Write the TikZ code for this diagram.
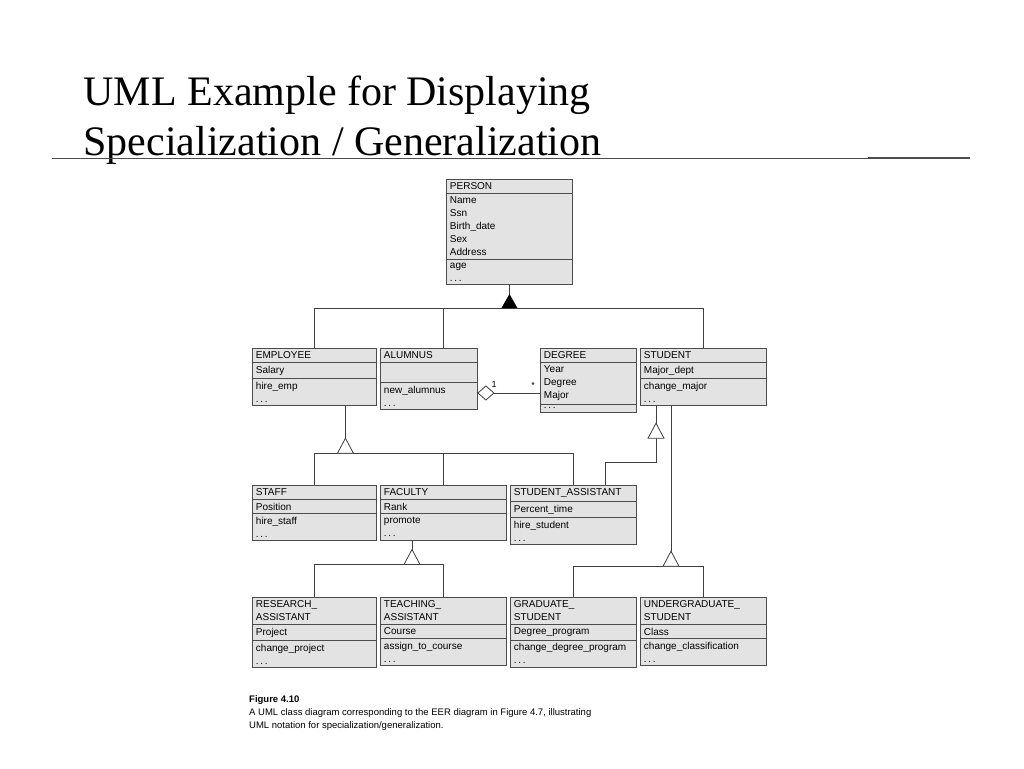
\documentclass[tikz,border=0pt]{standalone}
\usepackage{fontspec}
\setmainfont{Liberation Serif}
\newfontfamily\umlfont{Liberation Sans}
\usetikzlibrary{shapes.multipart,calc}

\tikzset{
  cls/.style={rectangle split, rectangle split parts=3, draw=black!70, fill=gray!22,
    line width=0.9pt, anchor=north west, inner xsep=3.5pt, inner ysep=3pt,
    text width=#1pt-7pt, align=left, font=\umlfont\fontsize{10}{13}\selectfont},
  conn/.style={draw=black!75, line width=0.8pt},
  gen/.style={conn, fill=white}
}
\newcommand{\dts}{.\,.\,.}

\begin{document}
\begin{tikzpicture}[x=1pt,y=-1pt]
  \useasboundingbox (0,0) rectangle (1024,768);

  % title
  \node[anchor=base west, font=\fontsize{42}{48}\selectfont, align=left] (title) at (80,105)
    {UML Example for Displaying};
  \node[anchor=base west, font=\fontsize{42}{48}\selectfont, align=left] (title2) at (80,155)
    {Specialization / Generalization};
  \draw[black!70, line width=0.8pt] (52,158) -- (970,158);
  \draw[black!70, line width=1.4pt] (868,158) -- (970,158);

  % classes
  \node[cls=126] (person) at (446,179) {PERSON
    \nodepart{two}Name\\Ssn\\Birth\_date\\Sex\\Address
    \nodepart{three}age\\\dts};

  \node[cls=124] (employee) at (252,348) {EMPLOYEE
    \nodepart{two}Salary \nodepart{three}hire\_emp\\\dts};
  \node[cls=97] (alumnus) at (380,348) {ALUMNUS
    \nodepart{two}\strut \nodepart{three}new\_alumnus\\\dts};
  \node[cls=96] (degree) at (540,348) {DEGREE
    \nodepart{two}Year\\Degree\\Major \nodepart{three}\dts};
  \node[cls=126] (student) at (640,348) {STUDENT
    \nodepart{two}Major\_dept \nodepart{three}change\_major\\\dts};

  \node[cls=124] (staff) at (252,485) {STAFF
    \nodepart{two}Position \nodepart{three}hire\_staff\\\dts};
  \node[cls=126] (faculty) at (380,485) {FACULTY
    \nodepart{two}Rank \nodepart{three}promote\\\dts};
  \node[cls=126] (stuasst) at (510,485) {STUDENT\_ASSISTANT
    \nodepart{two}Percent\_time \nodepart{three}hire\_student\\\dts};

  \node[cls=124] (research) at (252,597) {RESEARCH\_\\ASSISTANT
    \nodepart{two}Project \nodepart{three}change\_project\\\dts};
  \node[cls=126] (teaching) at (380,597) {TEACHING\_\\ASSISTANT
    \nodepart{two}Course \nodepart{three}assign\_to\_course\\\dts};
  \node[cls=126] (grad) at (510,597) {GRADUATE\_\\STUDENT
    \nodepart{two}Degree\_program \nodepart{three}change\_degree\_program\\\dts};
  \node[cls=126] (undergrad) at (640,597) {UNDERGRADUATE\_\\STUDENT
    \nodepart{two}Class \nodepart{three}change\_classification\\\dts};

  % PERSON generalization (filled)
  \coordinate (gperson) at ($(person.south)+(0,23)$);
  \draw[conn] (person.south) -- (gperson);
  \draw[conn] (employee.north) |- (gperson) -| (student.north);
  \draw[conn] (alumnus.north -| faculty.north) -- (gperson -| faculty.north);
  \fill[black] (gperson) ++(-8,0) -- ++(8,-14) -- ++(8,14) -- cycle;

  % EMPLOYEE generalization
  \coordinate (eline) at ($(employee.south)+(31,0)$);
  \coordinate (gemp) at ($(eline)+(0,47)$);
  \draw[conn] (eline) -- (gemp);
  \draw[conn] (staff.north) |- (gemp) -| (stuasst.north);
  \draw[conn] (faculty.north) -- (faculty.north |- gemp);
  \draw[gen] (gemp) ++(-8,0) -- ++(8,-15) -- ++(8,15) -- cycle;

  % STUDENT to STUDENT_ASSISTANT
  \coordinate (sline) at ($(student.south west)+(16,0)$);
  \coordinate (gstu) at ($(sline)+(0,32)$);
  \coordinate (sajoin) at ($(stuasst.north west)+(95,0)$);
  \draw[conn] (sline) -- (gstu);
  \draw[conn] (gstu) |- ($(sajoin)+(0,-23)$) -- (sajoin);
  \draw[gen] (gstu) ++(-8,0) -- ++(8,-15) -- ++(8,15) -- cycle;

  % STUDENT to GRADUATE / UNDERGRADUATE
  \coordinate (sline2) at ($(student.south west)+(31,0)$);
  \coordinate (gstu2) at ($(sline2)+(0,160)$);
  \draw[conn] (sline2) -- (gstu2);
  \draw[conn] (grad.north) |- (gstu2) -| (undergrad.north);
  \draw[gen] (gstu2) ++(-8,0) -- ++(8,-15) -- ++(8,15) -- cycle;

  % FACULTY generalization
  \coordinate (fline) at ($(faculty.south west)+(32,0)$);
  \coordinate (gfac) at ($(fline)+(0,24)$);
  \draw[conn] (fline) -- (gfac);
  \draw[conn] (research.north) |- (gfac) -| (teaching.north);
  \draw[gen] (gfac) ++(-8,0) -- ++(8,-15) -- ++(8,15) -- cycle;

  % aggregation ALUMNUS - DEGREE
  \coordinate (adiam) at (alumnus.east |- 0,393);
  \draw[conn] ($(adiam)+(16,0)$) -- (degree.west |- adiam);
  \draw[gen] (adiam) -- ++(8,-7) -- ++(8,7) -- ++(-8,7) -- cycle;
  \node[font=\umlfont\fontsize{9}{10}\selectfont] (one) at (494,384) {1};
  \node[font=\umlfont\fontsize{9}{10}\selectfont] (many) at (533,385) {*};

  % caption
  \node[anchor=north west, align=left, inner sep=0pt, font=\umlfont\fontsize{9.5}{13}\selectfont]
    (caption) at (249,695) {\textbf{Figure 4.10}\\
    A UML class diagram corresponding to the EER diagram in Figure 4.7, illustrating\\
    UML notation for specialization/generalization.};
\end{tikzpicture}
\end{document}
